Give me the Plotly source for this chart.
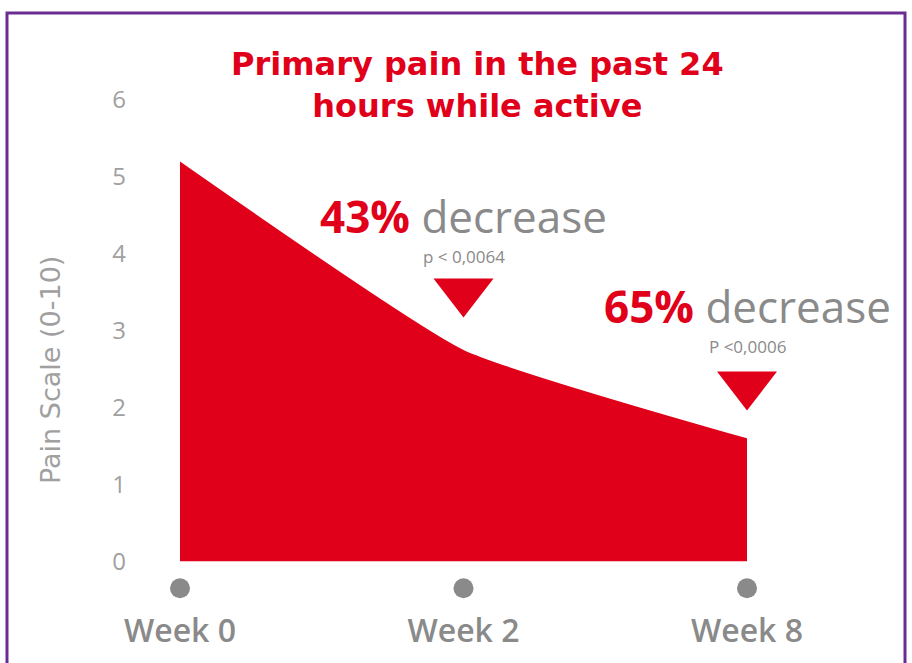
import plotly.graph_objects as go

# Pain scores over the study visits
weeks = ["Week 0", "Week 2", "Week 8"]
pain = [5.2, 2.75, 1.6]

# Callouts above the later visits
callout_pct = ["43%", "65%"]
callout_p = ["p < 0,0064", "P <0,0006"]
callout_x = [1, 2]
callout_text_y = [4.49, 3.32]
callout_p_y = [3.97, 2.8]
marker_y = [3.51, 2.3]

y_ticks = [0, 1, 2, 3, 4, 5, 6]

RED = "#e1001a"
GREY = "#8a8a8a"
LIGHT_GREY = "#a0a0a0"
PURPLE = "#6b2c91"

W, H = 912, 663
L, R, T, B = 180, 165, 100, 54
Y_MIN = -0.62

x_idx = list(range(len(weeks)))

fig = go.Figure()

fig.add_trace(go.Scatter(
    x=x_idx, y=pain,
    mode="lines",
    line=dict(color=RED, width=0, shape="spline", smoothing=0.45),
    fill="tozeroy", fillcolor=RED,
    hoverinfo="skip", showlegend=False,
))

# grey dots under each visit
fig.add_trace(go.Scatter(
    x=x_idx, y=[-0.35] * len(x_idx),
    mode="markers",
    marker=dict(color=GREY, size=20),
    cliponaxis=False, showlegend=False, hoverinfo="skip",
))

# downward arrows pointing at the drops
fig.add_trace(go.Scatter(
    x=callout_x, y=marker_y,
    mode="markers",
    marker=dict(color=RED, size=52, symbol="triangle-down"),
    cliponaxis=False, showlegend=False, hoverinfo="skip",
))

for cx, pct, ty, p, py in zip(callout_x, callout_pct, callout_text_y, callout_p, callout_p_y):
    fig.add_annotation(
        x=cx, y=ty, xref="x", yref="y", showarrow=False,
        xanchor="center", yanchor="middle",
        text=f"<b><span style='color:{RED}'>{pct}</span></b> <span style='color:{GREY}'>decrease</span>",
        font=dict(family="Open Sans", size=44, color=GREY),
    )
    fig.add_annotation(
        x=cx, y=py, xref="x", yref="y", showarrow=False,
        xanchor="center", yanchor="middle",
        text=p, font=dict(family="Open Sans", size=17, color=GREY),
    )

def px_x(px):
    return (px - L) / (W - L - R)

def px_y(py):
    # pixel row -> paper fraction of the plot area
    return (H - B - py) / (H - T - B)

# chart title
fig.add_annotation(
    x=px_x(477), y=px_y(85), xref="paper", yref="paper", showarrow=False,
    xanchor="center", yanchor="middle",
    text="<b>Primary pain in the past 24<br>hours while active</b>",
    font=dict(family="DejaVu Sans", size=32, color=RED),
    align="center",
)

# y axis title
fig.add_annotation(
    x=px_x(50), y=px_y(370), xref="paper", yref="paper", showarrow=False,
    xanchor="center", yanchor="middle",
    text="Pain Scale (0-10)", textangle=-90,
    font=dict(family="DejaVu Sans", size=27, color=LIGHT_GREY),
)

# purple frame
fig.add_shape(
    type="rect", xref="paper", yref="paper",
    x0=px_x(7), x1=px_x(905), y0=px_y(700), y1=px_y(13),
    line=dict(color=PURPLE, width=3), fillcolor="rgba(0,0,0,0)", layer="above",
)

fig.update_layout(
    width=W, height=H,
    margin=dict(l=L, r=R, t=T, b=B),
    paper_bgcolor="white", plot_bgcolor="white",
    showlegend=False,
    xaxis=dict(
        range=[0, 2], tickvals=x_idx, ticktext=weeks,
        showgrid=False, zeroline=False, showline=False, ticks="",
        tickfont=dict(family="Open Sans", size=32, color=GREY, weight=600),
        ticklabelstandoff=0, fixedrange=True, automargin=False,
    ),
    yaxis=dict(
        range=[Y_MIN, 6], tickvals=y_ticks,
        showgrid=False, zeroline=False, showline=False, ticks="",
        tickfont=dict(family="Open Sans", size=24, color=LIGHT_GREY),
        ticklabelstandoff=53, fixedrange=True, automargin=False,
    ),
)

fig.write_html("out.html")
